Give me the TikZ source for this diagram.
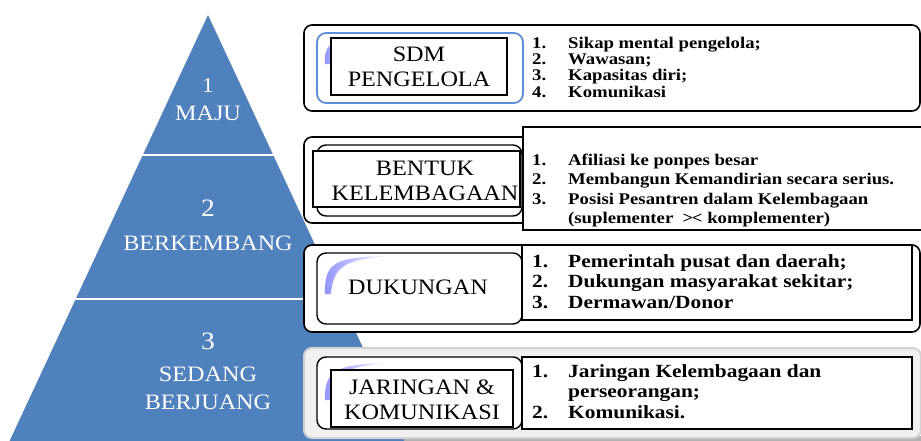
\documentclass[tikz,border=0pt]{standalone}
\usepackage{fontspec}
\setmainfont{Liberation Serif}
\newfontfamily\tagfont[FakeStretch=1.1]{Liberation Serif}
\newfontfamily\listfont[FakeStretch=1.15]{Liberation Serif}
\usepackage{tikz}
\usetikzlibrary{positioning}
\definecolor{pyrblue}{HTML}{4F81BD}
\definecolor{rimblue}{HTML}{5B8FD6}
\definecolor{swoosh}{HTML}{9494FF}

\begin{document}
\begin{tikzpicture}[x=1pt, y=-1pt,
    tier/.style={align=center, text=white, inner sep=0pt, font=\tagfont\fontsize{22}{28}\selectfont},
    frame/.style={draw, rounded corners=8pt, line width=1.6pt, fill=white},
    tagrim/.style={draw, rounded corners=9pt, line width=1.4pt, fill=white},
    tag/.style={draw, line width=1.4pt, fill=white, minimum width=#1},
    label/.style={align=center, inner sep=0pt, font=\tagfont\fontsize{22}{25}\selectfont},
    list/.style={draw, line width=1.4pt, fill=white},
    items/.style 2 args={align=left, anchor=base west, inner sep=0pt, font=\listfont\bfseries\fontsize{#1}{#2}\selectfont},
    wedge/.style={left color=swoosh, right color=swoosh!10},
]
    \useasboundingbox (0,0) rectangle (921,440);
    \clip (0,0) rectangle (921,440);

    % pyramid
    \fill[pyrblue] (208,15) -- (412,453) -- (4,453) -- cycle;
    \draw[white, line width=2.5pt] (140,155) -- (276,155);
    \draw[white, line width=2.5pt] (73,299) -- (343,299);
    \node[tier, anchor=north] (maju) at (208,78) {{\fontsize{21}{28}\selectfont 1}\\MAJU};
    \node[tier, anchor=north] (berkembang) at (208,199.5) {{\fontsize{25}{28}\selectfont 2}\\[6pt]BERKEMBANG};
    \node[tier, anchor=north] (berjuang) at (208,333) {{\fontsize{25}{28}\selectfont 3}\\[4pt]SEDANG\\BERJUANG};

    % SDM pengelola
    \node[frame, minimum width=616pt, minimum height=86pt] (sdmframe) at (612,68) {};
    \node[tagrim, draw=rimblue, line width=1.8pt, minimum width=206pt, minimum height=70pt] (sdmrim) at (420,68) {};
    \shade[wedge] (325,64) .. controls (324,46) and (329,39) .. (362,37) .. controls (338,40) and (331,46) .. (330,64) -- cycle;
    \node[tag=176pt, minimum height=57pt] (sdmbox) at (419,66.5) {};
    \node[label] (sdm) at (419,67) {SDM\\PENGELOLA};
    \node[items={16.3}{16.3}] (sdmlist) at (532,97) {%
        \makebox[36pt][l]{1.}Sikap mental pengelola;\\
        \makebox[36pt][l]{2.}Wawasan;\\
        \makebox[36pt][l]{3.}Kapasitas diri;\\
        \makebox[36pt][l]{4.}Komunikasi};

    % bentuk kelembagaan
    \node[frame, minimum width=316pt, minimum height=86pt] (bentukframe) at (462,180) {};
    \node[tagrim, minimum width=205pt, minimum height=71pt] (bentukrim) at (419.5,180.5) {};
    \node[tag=207pt, minimum height=56pt] (bentukbox) at (416.5,179) {};
    \node[label] (bentuk) at (425,180.5) {BENTUK\\KELEMBAGAAN};
    \node[list, minimum width=412pt, minimum height=103pt] (bentukpanel) at (729,178.5) {};
    \node[items={16.3}{19.5}] (bentuklist) at (532,223.5) {%
        \makebox[36pt][l]{1.}Afiliasi ke ponpes besar\\
        \makebox[36pt][l]{2.}Membangun Kemandirian secara serius.\\
        \makebox[36pt][l]{3.}Posisi Pesantren dalam Kelembagaan\\
        \makebox[36pt][l]{}(suplementer\ \ >\kern-1.5pt< komplementer)};

    % dukungan
    \node[frame, minimum width=616pt, minimum height=87pt] (dukframe) at (612,288.5) {};
    \node[tagrim, minimum width=205pt, minimum height=71pt] (dukrim) at (419.5,288.5) {};
    \shade[wedge] (325,294) .. controls (324,263) and (335,257) .. (386,256) .. controls (346,260) and (333,266) .. (331,294) -- cycle;
    \node[label] (dukungan) at (418,287) {DUKUNGAN};
    \node[list, minimum width=390pt, minimum height=75pt] (dukpanel) at (717,282.5) {};
    \node[items={18.6}{20.5}] (duklist) at (532,308) {%
        \makebox[36pt][l]{1.}Pemerintah pusat dan daerah;\\
        \makebox[36pt][l]{2.}Dukungan masyarakat sekitar;\\
        \makebox[36pt][l]{3.}Dermawan/Donor};

    % jaringan & komunikasi
    \fill[gray!60] (404,436) rectangle (921,441);
    \node[frame, draw=gray!35, fill=gray!12, line width=2pt, minimum width=617pt, minimum height=90pt] (jarframe) at (612.5,393) {};
    \node[tagrim, minimum width=205pt, minimum height=72pt] (jarrim) at (419.5,393) {};
    \shade[wedge] (325,400) .. controls (324,372) and (335,364) .. (386,363) .. controls (346,367) and (333,373) .. (331,400) -- cycle;
    \node[tag=182pt, minimum height=57pt] (jarbox) at (422,398.5) {};
    \node[label] (jaringan) at (422,399.5) {JARINGAN \&\\KOMUNIKASI};
    \node[list, minimum width=390pt, minimum height=72pt] (jarpanel) at (717,393) {};
    \node[items={18.6}{20.5}] (jarlist) at (532,418) {%
        \makebox[36pt][l]{1.}Jaringan Kelembagaan dan\\
        \makebox[36pt][l]{}perseorangan;\\
        \makebox[36pt][l]{2.}Komunikasi.};
\end{tikzpicture}
\end{document}
